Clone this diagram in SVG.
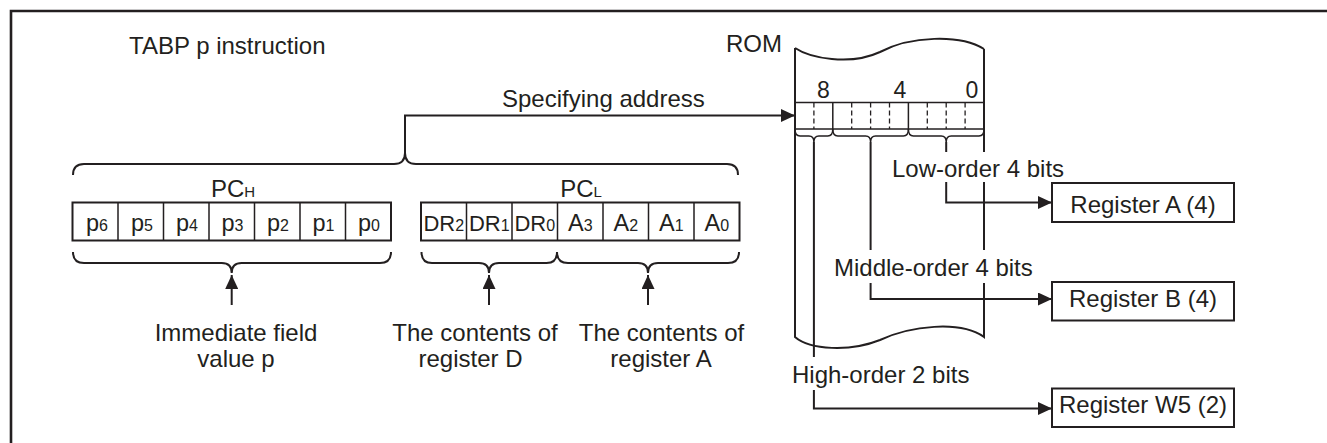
<svg xmlns="http://www.w3.org/2000/svg" width="1327" height="443" viewBox="0 0 1327 443">
<defs>
<style>
text{font-family:"Liberation Sans",Arial,Helvetica,sans-serif;fill:#231f20;font-size:24px}
.c{text-anchor:middle}
.cell{font-size:23.5px;text-anchor:middle}
.sub{font-size:16px}
.lab{font-size:15px}
.dig{font-size:23px;text-anchor:middle}
.ln{fill:none;stroke:#231f20;stroke-width:2}
.thin{fill:none;stroke:#231f20;stroke-width:1.5}
.dash{fill:none;stroke:#231f20;stroke-width:1.3;stroke-dasharray:5 3}
.box{fill:#fff;stroke:#231f20;stroke-width:2}
.bg{fill:#fff;stroke:none}
</style>
<marker id="ah" markerUnits="userSpaceOnUse" markerWidth="14" markerHeight="13" refX="14" refY="6.5" orient="auto">
<path d="M0,0 L14,6.5 L0,13 z" fill="#231f20"/>
</marker>
</defs>
<rect width="1327" height="443" fill="#fff"/>
<path id="frame" d="M11,443 V11 H1327" fill="none" stroke="#231f20" stroke-width="2.6"/>
<text id="title" x="129" y="54">TABP p instruction</text>

<g id="rom">
<text x="726" y="52">ROM</text>
<path class="ln" d="M795,48 C810,58 850,66 880,52 C910,36 960,34 984,49"/>
<path class="ln" d="M795,48 V337 C810,350 850,352 880,340 C910,326 960,320 984,337 V49"/>
<rect class="thin" x="795" y="102.5" width="189" height="26.5"/>
<path class="thin" d="M832.8,102.5 V129 M908.4,102.5 V129"/>
<path class="dash" d="M813.9,102.5 V129 M851.7,102.5 V129 M870.6,102.5 V129 M889.5,102.5 V129 M927.3,102.5 V129 M946.2,102.5 V129 M965.1,102.5 V129"/>
<text class="dig" x="823.4" y="98">8</text>
<text class="dig" x="900" y="98">4</text>
<text class="dig" x="972" y="98">0</text>
<path class="thin" d="M795,129 Q795,136 800,136 L808.9,136 Q813.9,136 813.9,142 Q813.9,136 818.9,136 L827.8,136 Q832.8,136 832.8,129"/>
<path class="thin" d="M832.8,129 Q832.8,136 837.8,136 L865.6,136 Q870.6,136 870.6,142 Q870.6,136 875.6,136 L903.4,136 Q908.4,136 908.4,129"/>
<path class="thin" d="M908.4,129 Q908.4,136 913.4,136 L941.2,136 Q946.2,136 946.2,142 Q946.2,136 951.2,136 L979,136 Q984,136 984,129"/>
</g>

<g id="pch">
<text class="c" x="233" y="197">PC<tspan class="lab">H</tspan></text>
<rect class="ln" x="72.5" y="202.5" width="318.5" height="38"/>
<path class="thin" d="M118,202.5 V240.5 M163.5,202.5 V240.5 M209,202.5 V240.5 M254.5,202.5 V240.5 M300,202.5 V240.5 M345.5,202.5 V240.5"/>
<text class="cell" x="97" y="231">p<tspan class="sub">6</tspan></text>
<text class="cell" x="142" y="231">p<tspan class="sub">5</tspan></text>
<text class="cell" x="187" y="231">p<tspan class="sub">4</tspan></text>
<text class="cell" x="232.5" y="231">p<tspan class="sub">3</tspan></text>
<text class="cell" x="278" y="231">p<tspan class="sub">2</tspan></text>
<text class="cell" x="323.5" y="231">p<tspan class="sub">1</tspan></text>
<text class="cell" x="369" y="231">p<tspan class="sub">0</tspan></text>
<path class="ln" d="M73,252 Q73,263 84,263 L221.7,263 Q231.7,263 231.7,273 Q231.7,263 241.7,263 L380,263 Q391,263 391,252"/>
</g>

<g id="pcl">
<text class="c" x="581" y="197">PC<tspan class="lab">L</tspan></text>
<rect class="ln" x="421" y="202.5" width="318.5" height="38"/>
<path class="thin" d="M466.5,202.5 V240.5 M512,202.5 V240.5 M557.5,202.5 V240.5 M603,202.5 V240.5 M648.5,202.5 V240.5 M694,202.5 V240.5"/>
<text class="cell" x="443.8" y="231" style="font-size:22px">DR<tspan class="sub">2</tspan></text>
<text class="cell" x="489.3" y="231" style="font-size:22px">DR<tspan class="sub">1</tspan></text>
<text class="cell" x="534.8" y="231" style="font-size:22px">DR<tspan class="sub">0</tspan></text>
<text class="cell" x="580.3" y="231">A<tspan class="sub">3</tspan></text>
<text class="cell" x="625.8" y="231">A<tspan class="sub">2</tspan></text>
<text class="cell" x="671.3" y="231">A<tspan class="sub">1</tspan></text>
<text class="cell" x="716.8" y="231">A<tspan class="sub">0</tspan></text>
<path class="ln" d="M421.5,252 Q421.5,263 432,263 L479,263 Q489,263 489,273 Q489,263 499,263 L546.5,263 Q557,263 557,252"/>
<path class="ln" d="M557,252 Q557,263 568,263 L638,263 Q648,263 648,273 Q648,263 658,263 L728,263 Q739,263 739,252"/>
</g>

<g id="top-brace">
<path class="ln" d="M73,175 Q73,164 84,164 L394,164 Q405,164 405,153 Q405,164 416,164 L727,164 Q738,164 738,175"/>
</g>

<g id="connectors">
<path class="ln" d="M405,153 V115.5 H795" marker-end="url(#ah)"/>
<path class="ln" d="M231.7,305 V275" marker-end="url(#ah)"/>
<path class="ln" d="M489,305 V275" marker-end="url(#ah)"/>
<path class="ln" d="M648,305 V275" marker-end="url(#ah)"/>
<path class="ln" d="M946.2,142 V202.5 H1052" marker-end="url(#ah)"/>
<path class="ln" d="M870.6,142 V299 H1052" marker-end="url(#ah)"/>
<path class="ln" d="M813.9,142 V408.5 H1052" marker-end="url(#ah)"/>
</g>

<g id="labels">
<text x="502" y="107">Specifying address</text>
<rect class="bg" x="888" y="152" width="178" height="30"/>
<text x="892" y="177">Low-order 4 bits</text>
<rect class="bg" x="830" y="250" width="205" height="33"/>
<text x="834" y="276">Middle-order 4 bits</text>
<rect class="bg" x="788" y="357" width="184" height="33"/>
<text x="792" y="383">High-order 2 bits</text>
<text class="c" x="236" y="341">Immediate field</text>
<text class="c" x="236" y="367">value p</text>
<text class="c" x="475" y="341">The contents of</text>
<text class="c" x="470.5" y="367">register D</text>
<text class="c" x="661.5" y="341">The contents of</text>
<text class="c" x="661" y="367">register A</text>
</g>

<g id="reg-a">
<rect class="box" x="1052" y="183" width="182" height="39"/>
<text class="c" x="1143" y="213">Register A (4)</text>
</g>
<g id="reg-b">
<rect class="box" x="1052" y="282" width="182" height="38.5"/>
<text class="c" x="1143" y="306.5">Register B (4)</text>
</g>
<g id="reg-w5">
<rect class="box" x="1052" y="388.5" width="182" height="38.5"/>
<text class="c" x="1143" y="413">Register W5 (2)</text>
</g>
</svg>
